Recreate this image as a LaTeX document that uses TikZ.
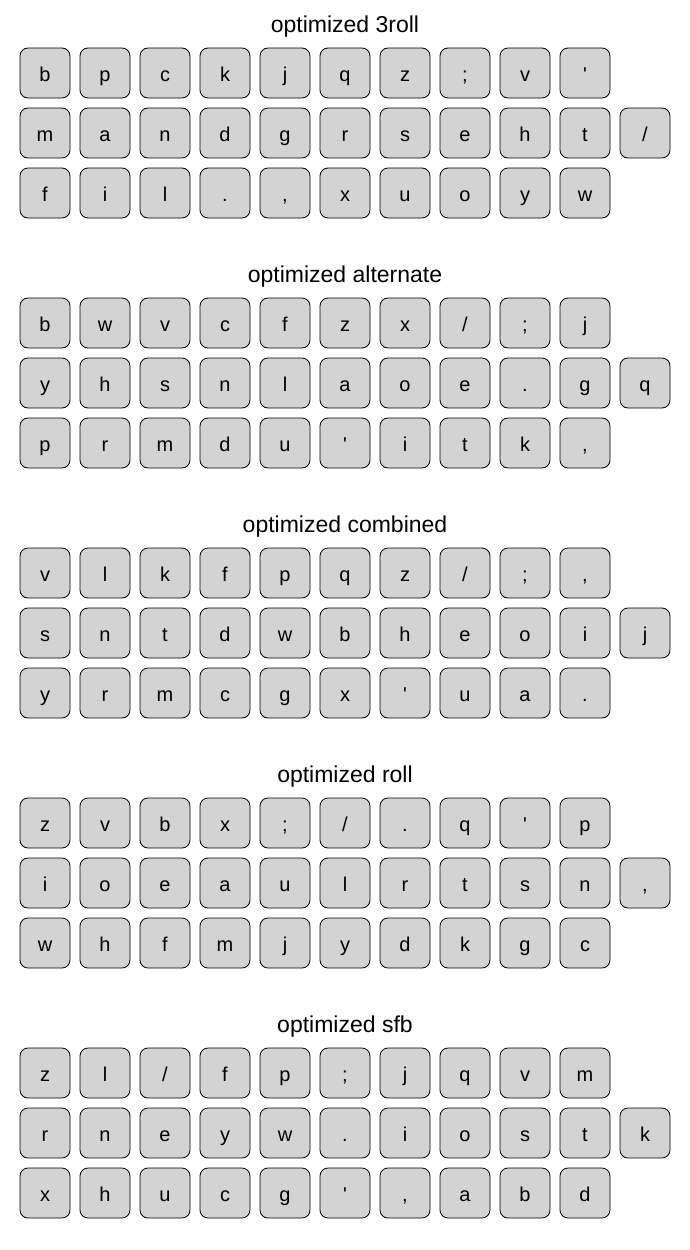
\documentclass[tikz,border=0pt]{standalone}
\usepackage{fontspec}
\setmainfont{Liberation Sans}[Ligatures=TeXOff]
\usepackage{xcolor}
\usepackage{tikz}
\definecolor{ckey}{RGB}{211,211,211}
\tikzset{
  key/.style={rectangle, rounded corners=8pt, draw=black, fill=ckey,
              line width=0.8pt, minimum width=50pt, minimum height=50pt,
              inner sep=0pt, text height=16pt, text depth=0pt,
              font=\fontsize{20}{20}\selectfont},
  ttl/.style={anchor=base, font=\fontsize{23}{23}\selectfont},
}

\begin{document}
\begin{tikzpicture}[x=1pt, y=-1pt]
  \useasboundingbox (0,0) rectangle (690,1250);

  % ── optimized 3roll ────────────────────────────────────────────────────────
  \node[ttl] (t0) at (345,32) {optimized 3roll};
  \foreach \k [count=\c from 0] in {b,p,c,k,j,q,z,;,v,'}
    \node[key] (k0-1-\c) at ({45+60*\c},73) {\k};
  \foreach \k [count=\c from 0] in {m,a,n,d,g,r,s,e,h,t,/}
    \node[key] (k0-2-\c) at ({45+60*\c},133) {\k};
  \foreach \k [count=\c from 0] in {f,i,l,.,{,},x,u,o,y,w}
    \node[key] (k0-3-\c) at ({45+60*\c},193) {\k};

  % ── optimized alternate ────────────────────────────────────────────────────
  \node[ttl] (t1) at (345,282) {optimized alternate};
  \foreach \k [count=\c from 0] in {b,w,v,c,f,z,x,/,;,j}
    \node[key] (k1-1-\c) at ({45+60*\c},323) {\k};
  \foreach \k [count=\c from 0] in {y,h,s,n,l,a,o,e,.,g,q}
    \node[key] (k1-2-\c) at ({45+60*\c},383) {\k};
  \foreach \k [count=\c from 0] in {p,r,m,d,u,',i,t,k,{,}}
    \node[key] (k1-3-\c) at ({45+60*\c},443) {\k};

  % ── optimized combined ─────────────────────────────────────────────────────
  \node[ttl] (t2) at (345,532) {optimized combined};
  \foreach \k [count=\c from 0] in {v,l,k,f,p,q,z,/,;,{,}}
    \node[key] (k2-1-\c) at ({45+60*\c},573) {\k};
  \foreach \k [count=\c from 0] in {s,n,t,d,w,b,h,e,o,i,j}
    \node[key] (k2-2-\c) at ({45+60*\c},633) {\k};
  \foreach \k [count=\c from 0] in {y,r,m,c,g,x,',u,a,.}
    \node[key] (k2-3-\c) at ({45+60*\c},693) {\k};

  % ── optimized roll ─────────────────────────────────────────────────────────
  \node[ttl] (t3) at (345,782) {optimized roll};
  \foreach \k [count=\c from 0] in {z,v,b,x,;,/,.,q,',p}
    \node[key] (k3-1-\c) at ({45+60*\c},823) {\k};
  \foreach \k [count=\c from 0] in {i,o,e,a,u,l,r,t,s,n,{,}}
    \node[key] (k3-2-\c) at ({45+60*\c},883) {\k};
  \foreach \k [count=\c from 0] in {w,h,f,m,j,y,d,k,g,c}
    \node[key] (k3-3-\c) at ({45+60*\c},943) {\k};

  % ── optimized sfb ──────────────────────────────────────────────────────────
  \node[ttl] (t4) at (345,1032) {optimized sfb};
  \foreach \k [count=\c from 0] in {z,l,/,f,p,;,j,q,v,m}
    \node[key] (k4-1-\c) at ({45+60*\c},1073) {\k};
  \foreach \k [count=\c from 0] in {r,n,e,y,w,.,i,o,s,t,k}
    \node[key] (k4-2-\c) at ({45+60*\c},1133) {\k};
  \foreach \k [count=\c from 0] in {x,h,u,c,g,',{,},a,b,d}
    \node[key] (k4-3-\c) at ({45+60*\c},1193) {\k};
\end{tikzpicture}
\end{document}
